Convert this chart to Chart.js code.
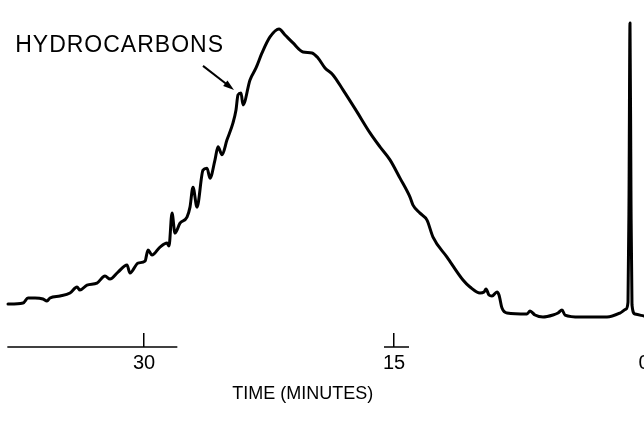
<!DOCTYPE html>
<html>
<head>
<meta charset="utf-8">
<title>Hydrocarbons chromatogram</title>
<script src="https://cdn.jsdelivr.net/npm/chart.js@4"></script>
<style>
  html, body { margin: 0; padding: 0; background: #fff; }
  canvas { display: block; }
</style>
</head>
<body>
<canvas id="gcChart" width="644" height="433"></canvas>
<script>
// retention time in minutes (axis runs backwards, 0 at the right)
const times = [
  38.16, 38.04, 37.26, 36.96, 36.54, 36.06, 35.82, 35.64, 35.04, 34.44,
  34.02, 33.84, 33.42, 32.82, 32.34, 32.04, 31.56, 31.02, 30.84, 30.36,
  29.94, 29.76, 29.52, 29.04, 28.62, 28.50, 28.32, 28.14, 27.84, 27.42,
  27.24, 27.06, 26.82, 26.46, 26.22, 26.04, 25.74, 25.56, 25.32, 25.02,
  24.66, 24.48, 24.36, 24.18, 24.06, 23.64, 23.28, 22.92, 22.44, 21.90,
  21.54, 21.06, 20.46, 19.92, 19.56, 19.14, 18.66, 18.06, 17.22, 16.44,
  15.84, 15.24, 14.64, 14.04, 13.86, 13.44, 13.02, 12.66, 11.82, 10.86,
  10.44, 9.84, 9.60, 9.48, 9.30, 9.12, 8.82, 8.70, 8.52, 8.22,
  7.02, 6.84, 6.54, 6.06, 5.46, 5.16, 4.92, 4.74, 3.84, 2.22,
  1.44, 1.08, 0.96, 0.90, 0.84, 0.78, 0.72, 0.54, 0.00
];
// detector response, arbitrary units
const signal = [
  8.7, 8.7, 9.0, 10.5, 10.5, 10.2, 9.6, 10.5, 11.1, 12.0,
  13.8, 12.9, 14.4, 15.0, 17.1, 16.2, 18.3, 20.4, 18.0, 21.0,
  21.6, 24.9, 23.4, 25.8, 27.0, 26.1, 36.0, 30.0, 33.0, 34.8,
  37.8, 43.8, 37.8, 48.9, 49.5, 46.5, 52.0, 55.9, 53.5, 58.0,
  63.1, 67.0, 71.5, 72.1, 68.5, 76.0, 79.6, 84.1, 88.9, 91.3,
  89.5, 87.1, 84.4, 84.1, 82.6, 79.6, 77.5, 73.0, 66.4, 60.1,
  55.9, 52.0, 46.5, 40.8, 38.4, 36.0, 33.9, 28.8, 22.8, 15.9,
  13.8, 12.0, 12.3, 13.2, 11.4, 11.1, 12.3, 11.4, 7.5, 6.0,
  5.7, 6.6, 5.4, 4.8, 5.4, 6.0, 6.9, 5.4, 4.8, 4.8,
  6.0, 7.2, 9.3, 39.9, 93.1, 39.9, 8.4, 5.7, 5.1
];
const tickMinutes = [30, 15, 0];
const axisTitle = "TIME (MINUTES)";
const peakLabel = "HYDROCARBONS";
const labelledPeakTime = 24.36;
// the printed time axis is only drawn in pieces
const axisPieces = [[38.2, 28.0], [15.6, 14.1]];

Chart.defaults.font.family = "'Liberation Sans', Arial, sans-serif";
Chart.defaults.color = "#000";

const TICK_LEN = 14;

const annotations = {
    id: "annotations",
    afterDraw(chart) {
        const ctx = chart.ctx;
        const xs = chart.scales.x;
        const ys = chart.scales.y;

        ctx.save();
        ctx.strokeStyle = "#000";
        ctx.fillStyle = "#000";

        // axis line pieces under the ticks
        const base = xs.top + TICK_LEN;
        ctx.lineWidth = 1.5;
        axisPieces.forEach(([a, b]) => {
            ctx.beginPath();
            ctx.moveTo(xs.getPixelForValue(a), base);
            ctx.lineTo(xs.getPixelForValue(b), base);
            ctx.stroke();
        });

        // axis title, sits a little left of the middle
        ctx.font = "18px 'Liberation Sans', Arial, sans-serif";
        ctx.textAlign = "center";
        ctx.textBaseline = "middle";
        ctx.fillText(axisTitle, xs.left + xs.width * 0.47, xs.bottom + 15);

        // arrow pointing at the hydrocarbon peak
        const i = times.indexOf(labelledPeakTime);
        const tipX = xs.getPixelForValue(times[i]) - 4;
        const tipY = ys.getPixelForValue(signal[i]) - 5;
        const tailX = tipX - 31, tailY = tipY - 24;
        const ang = Math.atan2(tipY - tailY, tipX - tailX);
        ctx.lineWidth = 2;
        ctx.beginPath();
        ctx.moveTo(tailX, tailY);
        ctx.lineTo(tipX - 8 * Math.cos(ang), tipY - 8 * Math.sin(ang));
        ctx.stroke();
        ctx.beginPath();
        ctx.moveTo(tipX, tipY);
        ctx.lineTo(tipX - 11 * Math.cos(ang) + 3.5 * Math.sin(ang), tipY - 11 * Math.sin(ang) - 3.5 * Math.cos(ang));
        ctx.lineTo(tipX - 11 * Math.cos(ang) - 3.5 * Math.sin(ang), tipY - 11 * Math.sin(ang) + 3.5 * Math.cos(ang));
        ctx.closePath();
        ctx.fill();

        ctx.font = "23px 'Liberation Sans', Arial, sans-serif";
        ctx.letterSpacing = "1px";
        ctx.textAlign = "right";
        ctx.textBaseline = "alphabetic";
        ctx.fillText(peakLabel, tailX + 21, tailY - 14);
        ctx.restore();
    }
};

document.addEventListener("DOMContentLoaded", function () {
    new Chart(document.getElementById("gcChart"), {
        type: "line",
        data: {
            datasets: [{
                data: times.map((t, i) => ({ x: t, y: signal[i] })),
                borderColor: "#000",
                borderWidth: 3,
                pointRadius: 0,
                cubicInterpolationMode: "monotone",
                borderJoinStyle: "round",
                borderCapStyle: "round",
                fill: false
            }]
        },
        options: {
            responsive: false,
            animation: false,
            layout: { padding: { left: 0, right: 0, top: 0, bottom: 54 } },
            plugins: {
                legend: { display: false },
                tooltip: { enabled: false }
            },
            scales: {
                x: {
                    type: "linear",
                    reverse: true,
                    min: 0,
                    max: 38.64,
                    afterBuildTicks: axis => {
                        axis.ticks = tickMinutes.map(v => ({ value: v }));
                    },
                    afterFit: axis => {
                        axis.paddingLeft = 0;
                        axis.paddingRight = 0;
                    },
                    grid: {
                        display: true,
                        drawOnChartArea: false,
                        drawTicks: true,
                        tickLength: TICK_LEN,
                        // no tick mark is printed at 0
                        color: c => (c.tick && c.tick.value === 0) ? "rgba(0,0,0,0)" : "#000",
                        lineWidth: 1.5
                    },
                    border: { display: false },
                    ticks: {
                        autoSkip: false,
                        maxRotation: 0,
                        padding: 4,
                        color: "#000",
                        font: { size: 20 }
                    },
                    title: { display: false }
                },
                y: { display: false, min: 0, max: 100 }
            }
        },
        plugins: [annotations]
    });
});
</script>
</body>
</html>
